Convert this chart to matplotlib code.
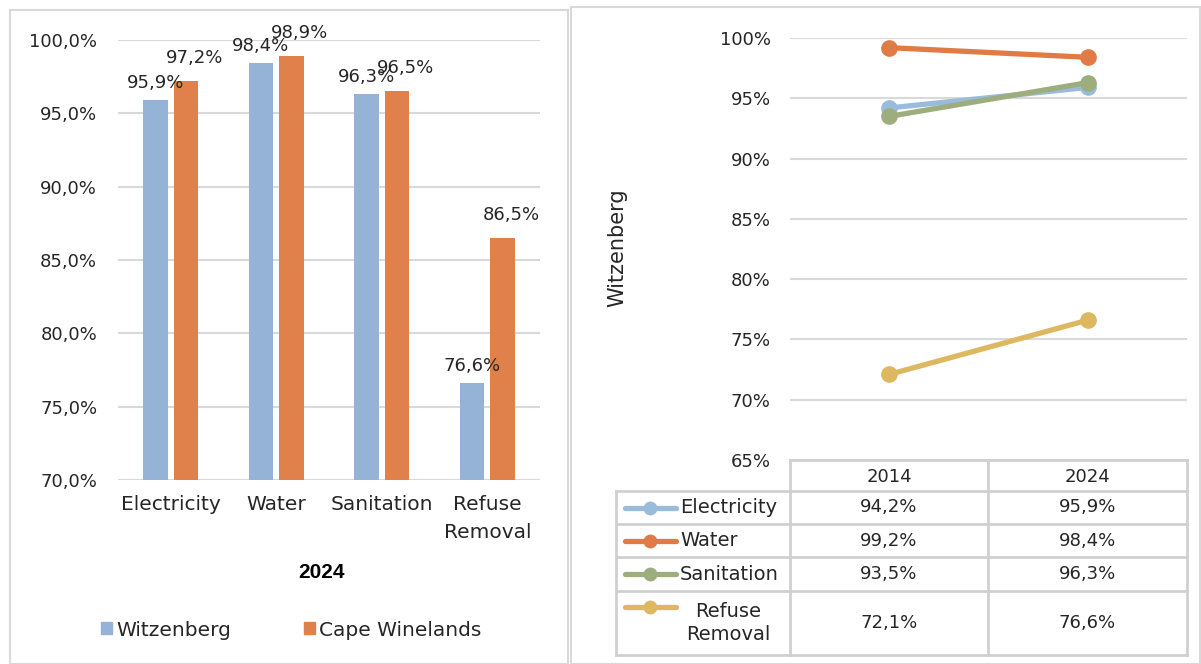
import matplotlib
matplotlib.use("Agg")
import matplotlib.pyplot as plt
from matplotlib.patches import Rectangle
from matplotlib.lines import Line2D
import numpy as np

# --- data ---
services = ["Electricity", "Water", "Sanitation", "Refuse\nRemoval"]
witzenberg_2024 = [95.9, 98.4, 96.3, 76.6]
cape_winelands_2024 = [97.2, 98.9, 96.5, 86.5]

years = ["2014", "2024"]
trend_series = ["Electricity", "Water", "Sanitation", "Refuse\nRemoval"]
trend_values = {
    "Electricity": [94.2, 95.9],
    "Water": [99.2, 98.4],
    "Sanitation": [93.5, 96.3],
    "Refuse\nRemoval": [72.1, 76.6],
}

bar_ticks = [70, 75, 80, 85, 90, 95, 100]
line_ticks = [65, 70, 75, 80, 85, 90, 95, 100]

# --- style ---
c_witz = "#95B3D7"
c_cape = "#E0804A"
line_colors = {
    "Electricity": "#9ABCDC",
    "Water": "#E07B45",
    "Sanitation": "#9EAD7D",
    "Refuse\nRemoval": "#DDB860",
}
grid_c = "#D9D9D9"
text_c = "#262626"
plt.rcParams["font.family"] = ["DejaVu Sans"]

W, H = 1201, 664
fig = plt.figure(figsize=(W / 100, H / 100), dpi=100)


def fx(px):
    return px / W


def fy(py):
    return 1 - py / H


# panel frames
fig.patches.append(Rectangle((fx(10), fy(664)), fx(558), 654 / H, transform=fig.transFigure,
                             fill=False, edgecolor="#D9D9D9", linewidth=1.5))
fig.patches.append(Rectangle((fx(571), fy(664)), fx(629), 657 / H, transform=fig.transFigure,
                             fill=False, edgecolor="#D9D9D9", linewidth=1.5))

# ========================================================
# Left: grouped bars for 2024
# ========================================================
ax1 = fig.add_axes([fx(118), fy(480), fx(422), 440 / H])
x = np.arange(len(services))
bw = 0.23
off = 0.145
b1 = ax1.bar(x - off, witzenberg_2024, bw, bottom=0, color=c_witz, label="Witzenberg", zorder=3)
b2 = ax1.bar(x + off, cape_winelands_2024, bw, bottom=0, color=c_cape, label="Cape Winelands", zorder=3)
ax1.set_ylim(70, 100)
ax1.set_xlim(-0.5, len(services) - 0.5)
ax1.set_yticks(bar_ticks)
ax1.set_yticklabels([f"{t:.1f}%".replace(".", ",") for t in bar_ticks])
ax1.set_xticks(x)
ax1.set_xticklabels(services, linespacing=1.55)
ax1.tick_params(axis="y", length=0, pad=15, labelsize=13, labelcolor=text_c)
ax1.tick_params(axis="x", length=0, pad=11, labelsize=14.5, labelcolor=text_c)
for t in ax1.get_xticklabels():
    t.set_verticalalignment("top")
ax1.grid(axis="y", color=grid_c, linewidth=1.5, zorder=0)
for s in ax1.spines.values():
    s.set_visible(False)
ax1.axhline(70, color=grid_c, linewidth=1.5, zorder=1)

# value labels; the orange ones sit a little right and higher, as Excel does
for bars, vals, shift in ((b1, witzenberg_2024, (0, 6)), (b2, cape_winelands_2024, (6, 10))):
    for rect, v in zip(bars, vals):
        ax1.annotate(f"{v:.1f}%".replace(".", ","), (rect.get_x() + rect.get_width() / 2, v),
                     xytext=shift, textcoords="offset points", ha="center", va="bottom",
                     fontsize=13, color=text_c, annotation_clip=False)

fig.text(fx(322), fy(572), "2024", ha="center", va="center", fontsize=15,
         fontweight="bold", family="Liberation Sans", color="black")

fig.legend(handles=[Rectangle((0, 0), 1, 1, color=c_witz), Rectangle((0, 0), 1, 1, color=c_cape)],
           labels=["Witzenberg", "Cape Winelands"], loc="center", bbox_to_anchor=(fx(291), fy(630)),
           ncol=2, frameon=False, fontsize=14.5, handlelength=0.55, handleheight=0.55,
           handletextpad=0.2, columnspacing=3.6, labelcolor=text_c)

# ========================================================
# Right: Witzenberg trend lines with data table
# ========================================================
ax2 = fig.add_axes([fx(790), fy(460), fx(397), 422 / H])
xp = np.arange(len(years))
for name in trend_series:
    ax2.plot(xp, trend_values[name], color=line_colors[name], linewidth=3.8,
             marker="o", markersize=11, zorder=3, solid_capstyle="round")
ax2.set_xlim(-0.5, len(years) - 0.5)
ax2.set_ylim(65, 100)
ax2.set_yticks(line_ticks)
ax2.set_yticklabels([f"{t}%" for t in line_ticks])
ax2.set_xticks([])
ax2.tick_params(axis="y", length=0, pad=14, labelsize=13, labelcolor=text_c)
ax2.grid(axis="y", color=grid_c, linewidth=1.5, zorder=0)
for s in ax2.spines.values():
    s.set_visible(False)
fig.text(fx(617), fy(248), "Witzenberg", rotation=90, ha="center", va="center",
         fontsize=15, color=text_c)

# data table under the plot
col_x = [790, 988, 1187]
label_x0 = 616
header_y = (460, 491)
row_edges = [491, 524, 557, 591, 655]
tline = dict(color="#D0D0D0", linewidth=2, transform=fig.transFigure)

fig.add_artist(Line2D([fx(col_x[0]), fx(col_x[-1])], [fy(header_y[0])] * 2, **tline))
for cx in col_x:
    fig.add_artist(Line2D([fx(cx)] * 2, [fy(header_y[0]), fy(row_edges[-1])], **tline))
fig.add_artist(Line2D([fx(label_x0)] * 2, [fy(row_edges[0]), fy(row_edges[-1])], **tline))
for ry in row_edges:
    fig.add_artist(Line2D([fx(label_x0), fx(col_x[-1])], [fy(ry)] * 2, **tline))

for j, yr in enumerate(years):
    cxm = (col_x[j] + col_x[j + 1]) / 2
    fig.text(fx(cxm), fy((header_y[0] + header_y[1]) / 2 + 1), yr, ha="center", va="center",
             fontsize=13, color=text_c)

for i, name in enumerate(trend_series):
    y0, y1 = row_edges[i], row_edges[i + 1]
    ym = (y0 + y1) / 2
    key_y = ym if "\n" not in name else y0 + 16
    fig.add_artist(Line2D([fx(625), fx(676)], [fy(key_y)] * 2, color=line_colors[name],
                          linewidth=3.8, solid_capstyle="round", transform=fig.transFigure))
    fig.add_artist(Line2D([fx(650)], [fy(key_y)], color=line_colors[name], marker="o",
                          markersize=9, transform=fig.transFigure))
    if "\n" in name:
        fig.text(fx(728), fy(ym), name, ha="center", va="center", fontsize=14,
                 color=text_c, linespacing=1.3)
    else:
        fig.text(fx(680), fy(ym), name, ha="left", va="center", fontsize=14, color=text_c)
    for j in range(len(years)):
        cxm = (col_x[j] + col_x[j + 1]) / 2
        fig.text(fx(cxm), fy(ym), f"{trend_values[name][j]:.1f}%".replace(".", ","),
                 ha="center", va="center", fontsize=13, color=text_c)

fig.savefig("out.png", dpi=100, facecolor="white")
